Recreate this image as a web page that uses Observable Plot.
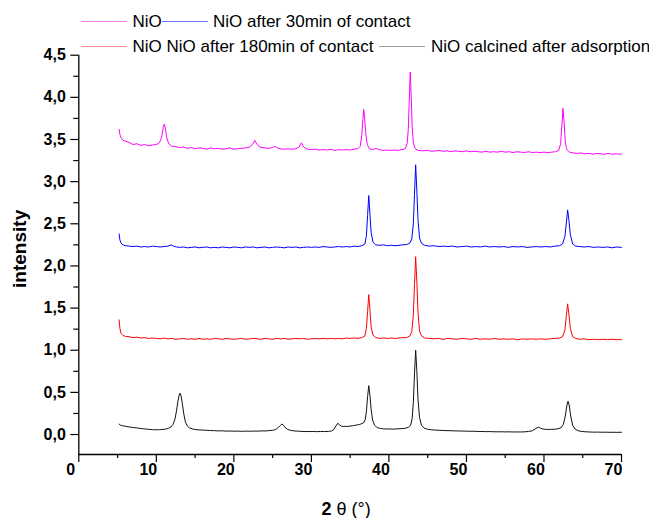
<!DOCTYPE html>
<html><head><meta charset="utf-8">
<script src="https://cdn.jsdelivr.net/npm/d3@7"></script>
<script src="https://cdn.jsdelivr.net/npm/@observablehq/plot@0.6"></script>
<style>
body{margin:0;background:#fff;font-family:"Liberation Sans",Arial,sans-serif;}
#wrap{position:relative;width:649px;height:518px;overflow:hidden;}
#legend{position:absolute;left:0;top:0;width:649px;height:44px;z-index:2;pointer-events:none;}
.sw{position:absolute;height:1.5px;width:46px;}
.lt{position:absolute;font-size:17px;line-height:20px;white-space:nowrap;color:#000;}
#chart{position:absolute;left:0;top:44px;}
</style></head>
<body><div id="wrap"><div id="legend"></div><div id="chart"></div></div>
<script>
// ---- data ----
const seriesNames = ["NiO", "NiO after 30min of contact", "NiO NiO after 180min of contact", "NiO calcined after adsorption"];
const seriesColors = ["#ff00ff", "#0000ff", "#ff0000", "#111111"];
const legendColors = ["#ff80f0", "#7070ff", "#ff9090", "#a0a0a0"];
const xTicks = [0, 10, 20, 30, 40, 50, 60, 70];
const xMinorTicks = [5, 15, 25, 35, 45, 55, 65];
const yTicks = [0, 0.5, 1, 1.5, 2, 2.5, 3, 3.5, 4, 4.5];
const yMinorTicks = [0.25, 0.75, 1.25, 1.75, 2.25, 2.75, 3.25, 3.75, 4.25];
const xTitleBold = "2";
const xTitleRest = "θ (°)";
const yTitle = "intensity";

const nio = [[5.2,3.62],[5.3,3.56],[5.45,3.52],[5.7,3.49],[6.0,3.48],[6.5,3.465],[7.0,3.44],[7.5,3.45],[8.0,3.43],[8.5,3.44],[9.0,3.425],[9.5,3.435],[10.0,3.44],[10.4,3.46],[10.7,3.53],[10.9,3.65],[11.0,3.68],[11.15,3.64],[11.35,3.52],[11.6,3.45],[12.0,3.42],[12.5,3.415],[13.0,3.405],[13.5,3.41],[14.0,3.395],[14.5,3.405],[15.0,3.39],[15.5,3.40],[16.0,3.395],[16.5,3.385],[17.0,3.40],[17.5,3.39],[18.0,3.395],[18.5,3.385],[19.0,3.39],[19.5,3.40],[20.0,3.385],[20.5,3.39],[21.0,3.395],[21.5,3.40],[22.0,3.41],[22.4,3.44],[22.7,3.49],[23.0,3.44],[23.4,3.41],[24.0,3.40],[24.5,3.395],[25.0,3.405],[25.3,3.42],[25.6,3.40],[26.0,3.39],[26.5,3.385],[27.0,3.39],[27.5,3.385],[28.0,3.39],[28.4,3.41],[28.7,3.46],[29.0,3.41],[29.5,3.385],[30.0,3.38],[30.5,3.385],[31.0,3.375],[31.5,3.38],[32.0,3.375],[32.5,3.385],[33.0,3.37],[33.5,3.38],[34.0,3.375],[34.5,3.38],[35.0,3.375],[35.5,3.385],[36.0,3.39],[36.3,3.42],[36.5,3.55],[36.65,3.75],[36.75,3.855],[36.85,3.78],[37.0,3.58],[37.2,3.44],[37.5,3.39],[37.9,3.38],[38.3,3.395],[38.7,3.38],[39.2,3.37],[39.7,3.375],[40.2,3.37],[40.7,3.375],[41.2,3.37],[41.7,3.38],[42.1,3.39],[42.35,3.45],[42.5,3.62],[42.62,3.95],[42.75,4.30],[42.88,4.0],[43.0,3.65],[43.15,3.46],[43.4,3.39],[43.8,3.37],[44.3,3.365],[45,3.37],[45.5,3.36],[46,3.365],[46.5,3.37],[47,3.36],[47.5,3.365],[48,3.355],[48.5,3.365],[49,3.36],[49.5,3.355],[50,3.365],[50.5,3.355],[51,3.36],[51.5,3.355],[52,3.35],[52.5,3.36],[53,3.35],[53.5,3.355],[54,3.35],[54.5,3.36],[55,3.35],[55.5,3.355],[56,3.345],[56.5,3.355],[57,3.35],[57.5,3.345],[58,3.355],[58.5,3.345],[59,3.35],[59.5,3.345],[60,3.35],[60.5,3.345],[61,3.35],[61.5,3.355],[61.9,3.37],[62.15,3.45],[62.3,3.65],[62.45,3.87],[62.6,3.7],[62.75,3.47],[62.95,3.38],[63.3,3.35],[63.8,3.34],[64.3,3.335],[64.8,3.34],[65.3,3.33],[65.8,3.335],[66.3,3.325],[66.8,3.335],[67.3,3.33],[67.8,3.325],[68.3,3.335],[68.8,3.325],[69.3,3.33],[69.8,3.325],[70.0,3.33]];

const nio30 = [[5.2,2.38],[5.3,2.31],[5.45,2.27],[5.7,2.25],[6.0,2.24],[6.5,2.235],[7,2.23],[7.5,2.235],[8,2.225],[8.5,2.23],[9,2.225],[9.5,2.235],[10,2.23],[10.5,2.225],[11,2.23],[11.5,2.235],[11.9,2.25],[12.2,2.235],[12.6,2.225],[13,2.22],[13.5,2.225],[14,2.215],[14.5,2.22],[15,2.225],[15.5,2.215],[16,2.22],[16.5,2.225],[17,2.215],[17.5,2.22],[18,2.215],[18.5,2.225],[19,2.22],[19.5,2.215],[20,2.225],[20.5,2.22],[21,2.215],[21.5,2.225],[22,2.22],[22.5,2.225],[23,2.215],[23.5,2.22],[24,2.225],[24.5,2.215],[25,2.22],[25.5,2.225],[26,2.22],[26.5,2.215],[27,2.225],[27.5,2.22],[28,2.225],[28.5,2.215],[29,2.22],[29.5,2.225],[30,2.22],[30.5,2.225],[31,2.22],[31.5,2.23],[32,2.225],[32.5,2.22],[33,2.225],[33.5,2.23],[34,2.225],[34.5,2.23],[35,2.225],[35.5,2.235],[36,2.23],[36.5,2.24],[36.9,2.26],[37.1,2.36],[37.25,2.6],[37.4,2.835],[37.55,2.62],[37.7,2.4],[37.95,2.28],[38.3,2.25],[38.8,2.245],[39.3,2.25],[39.8,2.24],[40.3,2.245],[40.8,2.24],[41.3,2.245],[41.8,2.25],[42.3,2.255],[42.7,2.27],[42.95,2.32],[43.15,2.5],[43.3,2.85],[43.45,3.2],[43.6,2.9],[43.75,2.55],[43.95,2.33],[44.2,2.27],[44.6,2.245],[45.2,2.235],[45.8,2.24],[46.4,2.23],[47,2.235],[47.6,2.23],[48.2,2.235],[48.8,2.225],[49.4,2.23],[50,2.235],[50.6,2.225],[51.2,2.23],[51.8,2.225],[52.4,2.235],[53,2.225],[53.6,2.23],[54.2,2.225],[54.8,2.23],[55.4,2.22],[56,2.23],[56.6,2.225],[57.2,2.23],[57.8,2.22],[58.4,2.225],[59,2.23],[59.6,2.225],[60.2,2.23],[60.8,2.225],[61.4,2.235],[62,2.24],[62.4,2.26],[62.7,2.35],[62.9,2.52],[63.05,2.665],[63.2,2.56],[63.4,2.37],[63.7,2.26],[64.1,2.235],[64.6,2.23],[65.2,2.225],[65.8,2.23],[66.4,2.22],[67,2.225],[67.6,2.22],[68.2,2.225],[68.8,2.215],[69.4,2.225],[70,2.22]];

const nio180 = [[5.2,1.36],[5.3,1.26],[5.45,1.2],[5.7,1.175],[6,1.165],[6.5,1.16],[7,1.15],[7.5,1.155],[8,1.145],[8.5,1.15],[9,1.14],[9.5,1.145],[10,1.14],[10.5,1.135],[11,1.145],[11.5,1.135],[12,1.14],[12.5,1.13],[13,1.135],[13.5,1.14],[14,1.13],[14.5,1.135],[15,1.13],[15.5,1.14],[16,1.13],[16.5,1.135],[17,1.13],[17.5,1.14],[18,1.135],[18.5,1.13],[19,1.14],[19.5,1.135],[20,1.13],[20.5,1.135],[21,1.14],[21.5,1.13],[22,1.135],[22.5,1.14],[23,1.135],[23.5,1.13],[24,1.14],[24.5,1.135],[25,1.13],[25.5,1.14],[26,1.135],[26.5,1.14],[27,1.13],[27.5,1.135],[28,1.14],[28.5,1.135],[29,1.14],[29.5,1.13],[30,1.135],[30.5,1.14],[31,1.135],[31.5,1.14],[32,1.135],[32.5,1.14],[33,1.135],[33.5,1.14],[34,1.135],[34.5,1.145],[35,1.14],[35.5,1.145],[36,1.14],[36.5,1.15],[36.9,1.17],[37.1,1.26],[37.25,1.46],[37.4,1.66],[37.55,1.48],[37.7,1.28],[37.95,1.18],[38.3,1.15],[38.8,1.14],[39.3,1.145],[39.8,1.14],[40.3,1.145],[40.8,1.14],[41.3,1.145],[41.8,1.15],[42.3,1.15],[42.7,1.17],[42.95,1.22],[43.15,1.42],[43.3,1.78],[43.45,2.11],[43.6,1.82],[43.75,1.45],[43.95,1.23],[44.2,1.17],[44.6,1.145],[45.2,1.14],[45.8,1.135],[46.4,1.14],[47,1.13],[47.6,1.14],[48.2,1.135],[48.8,1.13],[49.4,1.14],[50,1.135],[50.6,1.13],[51.2,1.14],[51.8,1.13],[52.4,1.135],[53,1.13],[53.6,1.14],[54.2,1.13],[54.8,1.135],[55.4,1.13],[56,1.135],[56.6,1.125],[57.2,1.135],[57.8,1.13],[58.4,1.135],[59,1.13],[59.6,1.135],[60.2,1.13],[60.8,1.135],[61.4,1.14],[62,1.145],[62.4,1.16],[62.7,1.24],[62.9,1.42],[63.05,1.55],[63.2,1.44],[63.4,1.26],[63.7,1.16],[64.1,1.14],[64.6,1.13],[65.2,1.135],[65.8,1.125],[66.4,1.13],[67,1.125],[67.6,1.13],[68.2,1.125],[68.8,1.13],[69.4,1.125],[70,1.125]];

const nioCalc = [[5.2,0.125],[5.35,0.112],[5.6,0.105],[5.9,0.1],[6.2,0.094],[6.5,0.09],[6.8,0.086],[7.1,0.082],[7.4,0.08],[7.7,0.074],[8.0,0.072],[8.3,0.068],[8.6,0.066],[8.9,0.062],[9.2,0.06],[9.5,0.058],[9.8,0.056],[10.1,0.057],[10.4,0.058],[10.7,0.06],[11.0,0.062],[11.3,0.066],[11.6,0.075],[11.9,0.09],[12.15,0.12],[12.4,0.18],[12.6,0.28],[12.8,0.4],[12.95,0.47],[13.05,0.49],[13.2,0.455],[13.35,0.37],[13.55,0.24],[13.75,0.15],[14.0,0.1],[14.3,0.078],[14.7,0.065],[15.1,0.058],[15.5,0.055],[16,0.052],[16.5,0.05],[17,0.047],[17.5,0.046],[18,0.043],[18.5,0.044],[19,0.04],[19.5,0.042],[20,0.039],[20.5,0.041],[21,0.038],[21.5,0.04],[22,0.039],[22.5,0.041],[23,0.04],[23.5,0.043],[24,0.042],[24.5,0.046],[25,0.05],[25.4,0.06],[25.75,0.085],[26.0,0.108],[26.2,0.125],[26.4,0.11],[26.65,0.08],[26.95,0.06],[27.3,0.05],[27.7,0.044],[28.2,0.04],[28.7,0.037],[29.2,0.036],[29.7,0.035],[30.2,0.036],[30.7,0.034],[31.2,0.036],[31.7,0.035],[32.2,0.037],[32.6,0.042],[32.9,0.06],[33.15,0.1],[33.4,0.133],[33.6,0.118],[33.85,0.1],[34.1,0.095],[34.4,0.097],[34.7,0.096],[35.0,0.1],[35.3,0.104],[35.6,0.108],[35.9,0.115],[36.2,0.118],[36.5,0.13],[36.75,0.14],[36.95,0.18],[37.1,0.28],[37.25,0.45],[37.4,0.58],[37.55,0.47],[37.7,0.3],[37.9,0.17],[38.15,0.11],[38.5,0.082],[38.9,0.072],[39.3,0.068],[39.7,0.065],[40.1,0.066],[40.5,0.064],[40.9,0.066],[41.3,0.068],[41.7,0.07],[42.1,0.074],[42.5,0.085],[42.8,0.11],[43.0,0.19],[43.15,0.38],[43.3,0.72],[43.45,1.0],[43.6,0.76],[43.75,0.42],[43.95,0.2],[44.2,0.11],[44.55,0.076],[45,0.062],[45.5,0.056],[46,0.052],[46.5,0.05],[47,0.048],[47.5,0.046],[48,0.045],[48.5,0.043],[49,0.042],[49.5,0.041],[50,0.04],[50.5,0.038],[51,0.039],[51.5,0.036],[52,0.036],[52.5,0.034],[53,0.035],[53.5,0.033],[54,0.032],[54.5,0.033],[55,0.031],[55.5,0.032],[56,0.03],[56.5,0.031],[57,0.03],[57.5,0.032],[58,0.036],[58.5,0.045],[58.85,0.065],[59.1,0.08],[59.3,0.087],[59.55,0.075],[59.85,0.066],[60.2,0.062],[60.6,0.06],[61,0.061],[61.4,0.063],[61.8,0.068],[62.2,0.08],[62.5,0.12],[62.75,0.22],[62.95,0.34],[63.1,0.395],[63.25,0.35],[63.45,0.22],[63.7,0.11],[64.0,0.065],[64.4,0.045],[64.9,0.036],[65.4,0.032],[65.9,0.03],[66.4,0.028],[66.9,0.029],[67.4,0.027],[67.9,0.028],[68.4,0.026],[68.9,0.027],[69.4,0.026],[70,0.027]];

const seriesPoints = [nio, nio30, nio180, nioCalc];

// ---- build table ----
const rows = [];
seriesPoints.forEach((pts, i) => pts.forEach(([x, y]) => rows.push({series: seriesNames[i], x, y})));

// ---- legend (HTML, above the svg) ----
const legendLayout = [
  {line: 81, text: 132.5, cy: 21.5},
  {line: 162, text: 213, cy: 21.5},
  {line: 81, text: 132.5, cy: 46.5},
  {line: 379, text: 431, cy: 46.5}
];
const legend = document.getElementById("legend");
seriesNames.forEach((name, i) => {
  const L = legendLayout[i];
  const sw = document.createElement("div");
  sw.className = "sw";
  sw.style.left = L.line + "px";
  sw.style.top = (L.cy - 0.75) + "px";
  sw.style.background = legendColors[i];
  legend.appendChild(sw);
  const t = document.createElement("div");
  t.className = "lt";
  t.style.left = L.text + "px";
  t.style.top = (L.cy - 9.6) + "px";
  t.textContent = name;
  legend.appendChild(t);
});

// ---- plot ----
const yMin = -0.237;
const fmt = d => d.toFixed(1).replace(".", ",");
const font = "Liberation Sans, Arial, sans-serif";

const plot = Plot.plot({
  width: 649,
  height: 474,
  marginLeft: 78.3,
  marginRight: 28,
  marginTop: 10.7,
  marginBottom: 64,
  style: {fontFamily: font, background: "transparent", overflow: "visible", color: "#000"},
  x: {domain: [0, 70]},
  y: {domain: [yMin, 4.5]},
  marks: [
    ...seriesNames.map((name, i) =>
      Plot.line(rows.filter(r => r.series === name), {x: "x", y: "y", stroke: seriesColors[i], strokeWidth: 1})
    ),
    Plot.axisY(yMinorTicks, {tickSize: 5, tickFormat: () => "", label: null, strokeWidth: 1.2}),
    Plot.axisY(yTicks, {tickSize: 8, tickPadding: 5, tickFormat: fmt, label: null, fontSize: 16, fontWeight: "bold", strokeWidth: 1.2}),
    Plot.axisX(xMinorTicks, {tickSize: 4, tickFormat: () => "", label: null, strokeWidth: 1.2}),
    Plot.axisX(xTicks, {tickSize: 8, tickFormat: () => "", label: null, strokeWidth: 1.2}),
    Plot.axisX(xTicks, {tickSize: 0, tickPadding: 9, dx: -8, label: null, fontSize: 16, fontWeight: "bold"}),
    Plot.ruleX([0], {y1: yMin, y2: 4.5, strokeWidth: 1.3}),
    Plot.ruleY([yMin], {x1: 0, x2: 70, strokeWidth: 1.3}),
    Plot.text([yTitle], {text: d => d, frameAnchor: "left", textAnchor: "middle", lineAnchor: "middle", rotate: -90, dx: -59, dy: -6, fontSize: 19, fontWeight: "bold"}),
    Plot.text([xTitleBold], {text: d => d, frameAnchor: "bottom", textAnchor: "end", lineAnchor: "bottom", dx: -18.6, dy: 60.5, fontSize: 18, fontWeight: "bold"}),
    Plot.text([xTitleRest], {text: d => d, frameAnchor: "bottom", textAnchor: "start", lineAnchor: "bottom", dx: -13.6, dy: 60.5, fontSize: 18})
  ]
});
document.getElementById("chart").appendChild(plot);
</script>
</body></html>
